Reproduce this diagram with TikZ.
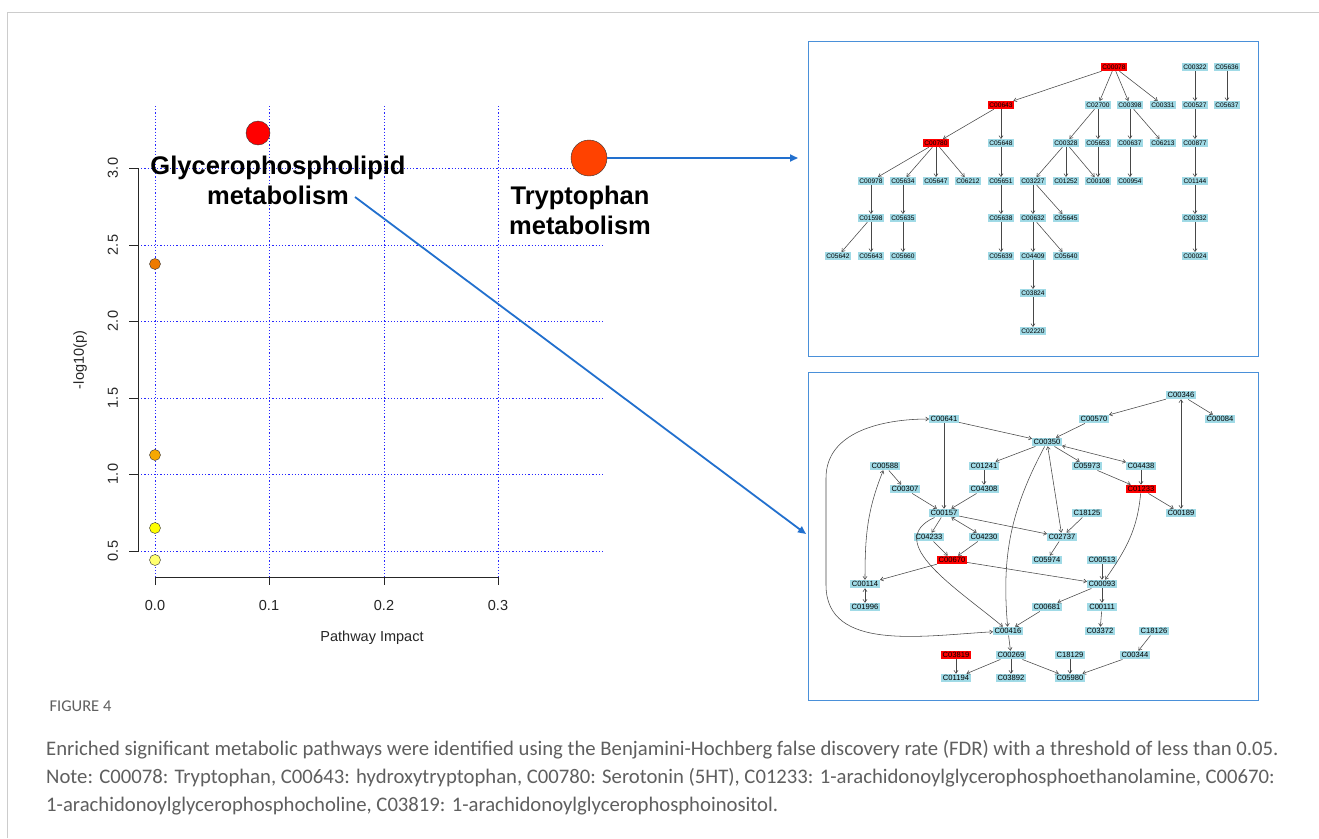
\documentclass[tikz,border=0pt]{standalone}
\usepackage{fontspec}
\setmainfont{Liberation Sans}
\newfontfamily\capfont{Carlito}
\usetikzlibrary{arrows.meta,positioning}
\definecolor{cpdblue}{RGB}{160,218,230}
\definecolor{hitred}{RGB}{255,0,0}
\definecolor{panelblue}{RGB}{74,144,217}
\definecolor{linkblue}{RGB}{34,112,206}
\definecolor{gridblue}{RGB}{40,40,255}
\definecolor{capgray}{RGB}{95,95,95}
\tikzset{
  cpd/.style = {fill=cpdblue, inner sep=0pt, minimum width=26pt, minimum height=8pt, font=\fontsize{6.6}{7}\selectfont},
  hit/.style = {cpd, fill=hitred},
  bcpd/.style = {cpd, minimum width=30pt, minimum height=8.5pt, font=\fontsize{7.6}{8}\selectfont},
  bhit/.style = {bcpd, fill=hitred},
  edge/.style = {draw=black!72, line width=0.55pt, -{To[length=3.4pt,width=4.4pt]}},
  bedge/.style = {edge, {To[length=3.4pt,width=4.4pt]}-{To[length=3.4pt,width=4.4pt]}},
  panel/.style = {draw=panelblue, line width=1pt},
  gridline/.style = {gridblue, line width=0.9pt, dash pattern=on 1.2pt off 2pt},
  tick/.style = {font=\fontsize{14.5}{16}\selectfont, text=black!85},
  pathlab/.style = {font=\fontsize{25.5}{30}\selectfont\bfseries, align=center},
  link/.style = {linkblue, line width=1.8pt, -{Triangle[length=8pt,width=7pt]}}
}
\begin{document}
\begin{tikzpicture}[x=1pt,y=-1pt]
\fill[white] (0,0) rectangle (1319,838);
\useasboundingbox (0,0) rectangle (1319,838);
\draw[black!20, line width=0.8pt] (7,838) -- (7,12) -- (1319,12);

% pathway impact plot
\foreach \gy in {168,245,321,398,474,551}
  \draw[gridline] (138,\gy) -- (605,\gy);
\foreach \gx in {155,269,384,498}
  \draw[gridline] (\gx,106) -- (\gx,577);
\draw[black!85, line width=0.9pt] (129,168) -- (138,168) -- (138,551) -- (129,551);
\foreach \gy in {245,321,398,474}
  \draw[black!85, line width=0.9pt] (129,\gy) -- (138,\gy);
\draw[black!85, line width=0.9pt] (155,585) -- (155,577) -- (498,577) -- (498,585);
\foreach \gx in {269,384}
  \draw[black!85, line width=0.9pt] (\gx,577) -- (\gx,585);
\node[tick, rotate=90] (y05) at (113,551) {0.5};
\node[tick, rotate=90] (y10) at (113,474) {1.0};
\node[tick, rotate=90] (y15) at (113,398) {1.5};
\node[tick, rotate=90] (y20) at (113,321) {2.0};
\node[tick, rotate=90] (y25) at (113,245) {2.5};
\node[tick, rotate=90] (y30) at (113,168) {3.0};
\node[tick] (x00) at (155,605) {0.0};
\node[tick] (x01) at (269,605) {0.1};
\node[tick] (x02) at (384,605) {0.2};
\node[tick] (x03) at (498,605) {0.3};
\node[tick] (xlab) at (372,638) {Pathway Impact};
\node[tick, rotate=90] (ylab) at (80,360) {-log10(p)};

\node[circle, draw=black!80, fill=red, minimum size=24pt, inner sep=0pt] (glp) at (258,133) {};
\node[circle, draw=black!80, fill={rgb,255:red,255;green,66;blue,0}, minimum size=36pt, inner sep=0pt] (trp) at (589,158) {};
\node[circle, draw=black!80, fill={rgb,255:red,238;green,122;blue,0}, minimum size=11pt, inner sep=0pt] (p1) at (155,264) {};
\node[circle, draw=black!80, fill={rgb,255:red,245;green,168;blue,0}, minimum size=11pt, inner sep=0pt] (p2) at (155,455) {};
\node[circle, draw=black!80, fill={rgb,255:red,255;green,255;blue,0}, minimum size=11pt, inner sep=0pt] (p3) at (155,528) {};
\node[circle, draw=black!80, fill={rgb,255:red,255;green,255;blue,110}, minimum size=11pt, inner sep=0pt] (p4) at (155,560) {};

\node[pathlab] (glplab) at (278,180) {Glycerophospholipid\\metabolism};
\node[pathlab] (trplab) at (580,210) {Tryptophan\\metabolism};

% network panels
\draw[panel] (808,41) rectangle (1258,356);
\draw[panel] (808,372) rectangle (1258,700);
\coordinate (tipA) at (798,158);
\coordinate (fromB) at (355,197);
\coordinate (tipB) at (806,534);
\draw[link] (trp.east) -- (tipA);
\draw[link] (fromB) -- (tipB);

% tryptophan network
\node[hit] (C00078) at (1114,67) {C00078};
\node[cpd] (C00322) at (1195,67) {C00322};
\node[cpd] (C05636) at (1227,67) {C05636};
\node[hit] (C00643) at (1001,105) {C00643};
\node[cpd] (C02700) at (1098,105) {C02700};
\node[cpd] (C00398) at (1130,105) {C00398};
\node[cpd] (C00331) at (1163,105) {C00331};
\node[cpd] (C00527) at (1195,105) {C00527};
\node[cpd] (C05637) at (1227,105) {C05637};
\node[hit] (C00780) at (936,143) {C00780};
\node[cpd] (C05648) at (1001,143) {C05648};
\node[cpd] (C00328) at (1066,143) {C00328};
\node[cpd] (C05653) at (1098,143) {C05653};
\node[cpd] (C00637) at (1130,143) {C00637};
\node[cpd] (C06213) at (1163,143) {C06213};
\node[cpd] (C00877) at (1195,143) {C00877};
\node[cpd] (C00978) at (871,181) {C00978};
\node[cpd] (C05634) at (903,181) {C05634};
\node[cpd] (C05647) at (936,181) {C05647};
\node[cpd] (C06212) at (968,181) {C06212};
\node[cpd] (C05651) at (1001,181) {C05651};
\node[cpd] (C03227) at (1033,181) {C03227};
\node[cpd] (C01252) at (1066,181) {C01252};
\node[cpd] (C00108) at (1098,181) {C00108};
\node[cpd] (C00954) at (1130,181) {C00954};
\node[cpd] (C01144) at (1195,181) {C01144};
\node[cpd] (C01598) at (871,218) {C01598};
\node[cpd] (C05635) at (903,218) {C05635};
\node[cpd] (C05638) at (1001,218) {C05638};
\node[cpd] (C00632) at (1033,218) {C00632};
\node[cpd] (C05645) at (1066,218) {C05645};
\node[cpd] (C00332) at (1195,218) {C00332};
\node[cpd] (C05642) at (838,256) {C05642};
\node[cpd] (C05643) at (871,256) {C05643};
\node[cpd] (C05660) at (903,256) {C05660};
\node[cpd] (C05639) at (1001,256) {C05639};
\node[cpd] (C04409) at (1033,256) {C04409};
\node[cpd] (C05640) at (1066,256) {C05640};
\node[cpd] (C00024) at (1195,256) {C00024};
\node[cpd] (C03824) at (1033,293) {C03824};
\node[cpd] (C02220) at (1033,331) {C02220};

\draw[edge] (C00078) -- (C00643);
\draw[edge] (C00078) -- (C02700);
\draw[edge] (C00078) -- (C00398);
\draw[edge] (C00078) -- (C00331);
\draw[edge] (C00322) -- (C00527);
\draw[edge] (C05636) -- (C05637);
\draw[edge] (C00643) -- (C00780);
\draw[edge] (C00643) -- (C05648);
\draw[edge] (C02700) -- (C00328);
\draw[edge] (C02700) -- (C05653);
\draw[edge] (C00398) -- (C00637);
\draw[edge] (C00398) -- (C06213);
\draw[edge] (C00527) -- (C00877);
\draw[edge] (C00780) -- (C00978);
\draw[edge] (C00780) -- (C05634);
\draw[edge] (C00780) -- (C05647);
\draw[edge] (C00780) -- (C06212);
\draw[edge] (C05648) -- (C05651);
\draw[edge] (C00328) -- (C03227);
\draw[edge] (C00328) -- (C01252);
\draw[edge] (C00328) -- (C00108);
\draw[edge] (C05653) -- (C00108);
\draw[edge] (C00637) -- (C00954);
\draw[edge] (C00877) -- (C01144);
\draw[edge] (C00978) -- (C01598);
\draw[edge] (C05634) -- (C05635);
\draw[edge] (C05651) -- (C05638);
\draw[edge] (C03227) -- (C00632);
\draw[edge] (C03227) -- (C05645);
\draw[edge] (C01144) -- (C00332);
\draw[edge] (C01598) -- (C05642);
\draw[edge] (C01598) -- (C05643);
\draw[edge] (C05635) -- (C05660);
\draw[edge] (C05638) -- (C05639);
\draw[edge] (C00632) -- (C04409);
\draw[edge] (C00632) -- (C05640);
\draw[edge] (C00332) -- (C00024);
\draw[edge] (C04409) -- (C03824);
\draw[edge] (C03824) -- (C02220);

% glycerophospholipid network
\node[bcpd] (C00346) at (1181,395) {C00346};
\node[bcpd] (C00084) at (1220,419) {C00084};
\node[bcpd] (C00570) at (1094,419) {C00570};
\node[bcpd] (C00641) at (944,419) {C00641};
\node[bcpd] (C00350) at (1047,442) {C00350};
\node[bcpd] (C00588) at (885,466) {C00588};
\node[bcpd] (C01241) at (984,466) {C01241};
\node[bcpd] (C05973) at (1087,466) {C05973};
\node[bcpd] (C04438) at (1141,466) {C04438};
\node[bcpd] (C00307) at (905,489) {C00307};
\node[bcpd] (C04308) at (984,489) {C04308};
\node[bhit] (C01233) at (1141,489) {C01233};
\node[bcpd] (C00157) at (944,513) {C00157};
\node[bcpd] (C18125) at (1087,513) {C18125};
\node[bcpd] (C00189) at (1181,513) {C00189};
\node[bcpd] (C04233) at (929,537) {C04233};
\node[bcpd] (C04230) at (984,537) {C04230};
\node[bcpd] (C02737) at (1062,537) {C02737};
\node[bhit] (C00670) at (952,560) {C00670};
\node[bcpd] (C05974) at (1047,560) {C05974};
\node[bcpd] (C00513) at (1102,560) {C00513};
\node[bcpd] (C00114) at (865,584) {C00114};
\node[bcpd] (C00093) at (1102,584) {C00093};
\node[bcpd] (C01996) at (865,607) {C01996};
\node[bcpd] (C00681) at (1047,607) {C00681};
\node[bcpd] (C00111) at (1102,607) {C00111};
\node[bcpd] (C00416) at (1008,631) {C00416};
\node[bcpd] (C03372) at (1100,631) {C03372};
\node[bcpd] (C18126) at (1154,631) {C18126};
\node[bhit] (C03819) at (956,655) {C03819};
\node[bcpd] (C00269) at (1011,655) {C00269};
\node[bcpd] (C18129) at (1070,655) {C18129};
\node[bcpd] (C00344) at (1135,655) {C00344};
\node[bcpd] (C01194) at (956,678) {C01194};
\node[bcpd] (C03892) at (1011,678) {C03892};
\node[bcpd] (C05980) at (1070,678) {C05980};
\coordinate (loopA) at (826,478);
\coordinate (loopB) at (826,585);

\draw[edge] (C00346) -- (C00570);
\draw[edge] (C00346) -- (C00084);
\draw[bedge] (C00346) -- (C00189);
\draw[edge] (C00570) -- (C00350);
\draw[edge] (C00641) -- (C00350);
\draw[edge] (C00641) -- (C00157);
\draw[edge] (C00350) -- (C01241);
\draw[edge] (C00350) -- (C05973);
\draw[bedge] (C00350) -- (C04438);
\draw[bedge] (C00350) -- (C02737);
\draw[edge] (C00350) to[out=-118,in=95] (C00416);
\draw[edge] (C01241) -- (C04308);
\draw[edge] (C00588) -- (C00307);
\draw[edge] (C00307) -- (C00157);
\draw[edge] (C04308) -- (C00157);
\draw[edge] (C05973) -- (C01233);
\draw[edge] (C04438) -- (C01233);
\draw[edge] (C01233) -- (C00189);
\draw[edge] (C01233) to[out=-95,in=55] (C00093);
\draw[edge] (C00157) -- (C04233);
\draw[bedge] (C00157) -- (C04230);
\draw[edge] (C00157) -- (C02737);
\draw[edge] (C00157) to[out=205,in=140,looseness=1.15] (C00416);
\draw[edge] (C18125) -- (C02737);
\draw[edge] (C04233) -- (C00670);
\draw[edge] (C04230) -- (C00670);
\draw[edge] (C00670) -- (C00114);
\draw[edge] (C00670) -- (C00093);
\draw[edge] (C02737) -- (C05974);
\draw[edge] (C00513) -- (C00093);
\draw[edge] (C00093) -- (C00681);
\draw[edge] (C00093) -- (C00111);
\draw[bedge] (C00114) -- (C01996);
\draw[bedge] (C00114) to[out=90,in=-112] (C00588);
\draw[bedge] (C00641) to[out=180,in=90] (loopA) -- (loopB) to[out=-90,in=183] (C00416);
\draw[edge] (C00681) -- (C00416);
\draw[edge] (C00416) -- (C00269);
\draw[edge] (C00269) -- (C01194);
\draw[edge] (C00269) -- (C03892);
\draw[edge] (C00269) -- (C05980);
\draw[edge] (C03819) -- (C01194);
\draw[edge] (C00111) -- (C03372);
\draw[edge] (C18126) -- (C00344);
\draw[edge] (C00344) -- (C05980);
\draw[edge] (C18129) -- (C05980);

% caption
\node[anchor=west, text=capgray, font=\capfont\fontsize{16.5}{18}\selectfont] (fig) at (46,706) {FIGURE 4};
\node[anchor=north west, align=left, inner sep=0pt, text=capgray, font=\capfont\fontsize{20.7}{28}\selectfont] (cap) at (46,740)
  {Enriched significant metabolic pathways were identified using the Benjamini-Hochberg false discovery rate (FDR) with a threshold of less than 0.05.\\
   Note: C00078: Tryptophan, C00643: hydroxytryptophan, C00780: Serotonin (5HT), C01233: 1-arachidonoylglycerophosphoethanolamine, C00670:\\
   1-arachidonoylglycerophosphocholine, C03819: 1-arachidonoylglycerophosphoinositol.};
\end{tikzpicture}
\end{document}
